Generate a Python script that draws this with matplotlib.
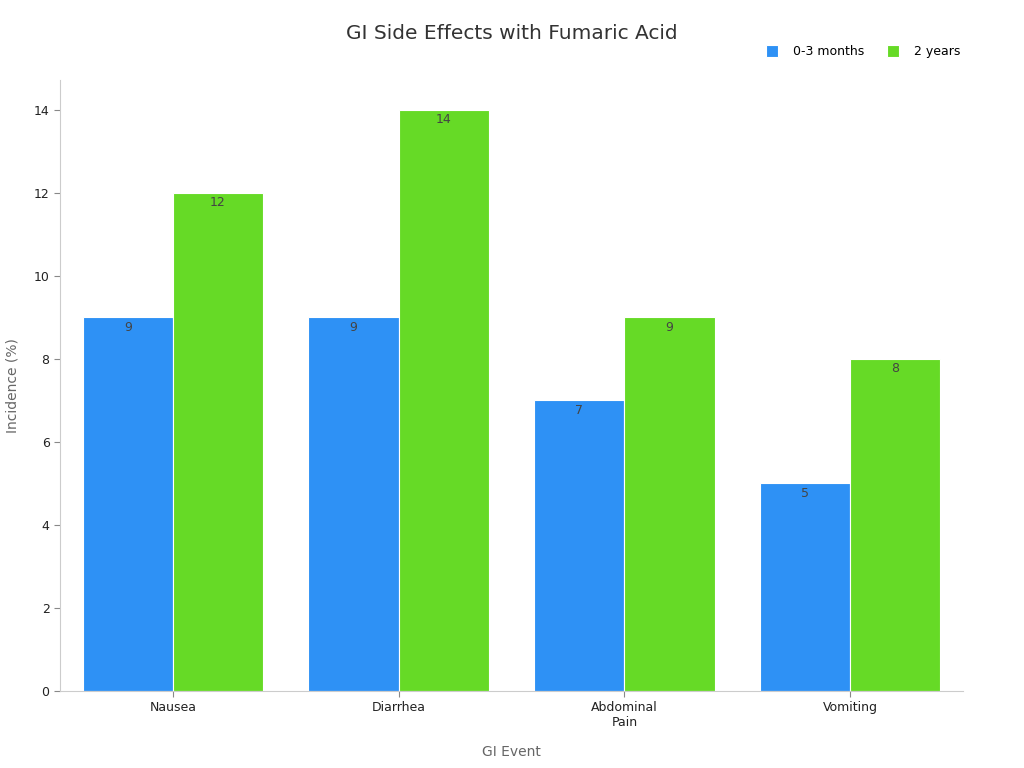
import numpy as np
import matplotlib.pyplot as plt

categories = ["Nausea", "Diarrhea", "Abdominal\nPain", "Vomiting"]
short_term = [9, 9, 7, 5]
long_term = [12, 14, 9, 8]
series_names = ["0-3 months", "2 years"]

blue = "#2E91F5"
green = "#66DA26"

fig = plt.figure(figsize=(10.24, 7.68), dpi=100)
ax = fig.add_axes([0.0586, 0.1003, 0.8818, 0.7957])

x = np.arange(len(categories))
w = 0.4
b1 = ax.bar(x - w / 2, short_term, w, color=blue, edgecolor="white", linewidth=0.8, label=series_names[0])
b2 = ax.bar(x + w / 2, long_term, w, color=green, edgecolor="white", linewidth=0.8, label=series_names[1])

for bars in (b1, b2):
    for r in bars:
        ax.annotate(f"{r.get_height():g}", (r.get_x() + r.get_width() / 2, r.get_height()),
                    xytext=(0, -7), textcoords="offset points", ha="center", va="center",
                    fontsize=9, color="#444444")

ax.set_xlim(-0.5, 3.5)
ax.set_ylim(0, 14.72)
ax.set_yticks(range(0, 15, 2))
ax.set_xticks(x)
ax.set_xticklabels(categories, fontsize=9, color="#222222")
ax.tick_params(axis="y", labelsize=9, colors="#222222")
ax.tick_params(color="#888888", length=4)

for s in ("top", "right"):
    ax.spines[s].set_visible(False)
for s in ("left", "bottom"):
    ax.spines[s].set_color("#cccccc")

ax.set_xlabel("GI Event", fontsize=10, color="#666666", labelpad=11)
ax.set_ylabel("Incidence (%)", fontsize=10, color="#666666", labelpad=10)

fig.text(0.5, 0.957, "GI Side Effects with Fumaric Acid", ha="center", va="center",
         fontsize=14.5, color="#333333")

ax.legend(loc="upper right", bbox_to_anchor=(1.01, 1.075), ncol=2, frameon=False,
          fontsize=9, handlelength=1.0, handleheight=1.0, columnspacing=1.8, handletextpad=1.2)

fig.savefig("out.png", dpi=100)
